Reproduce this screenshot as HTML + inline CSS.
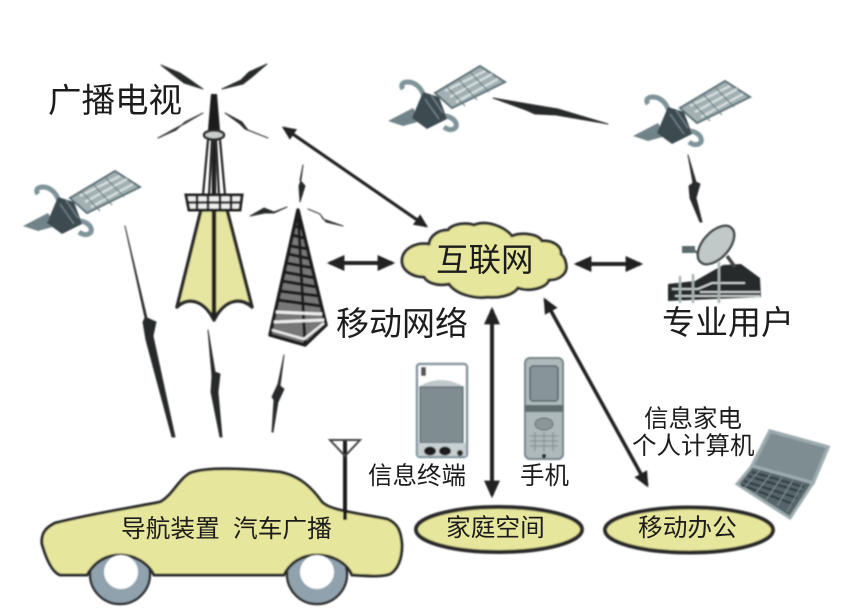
<!DOCTYPE html>
<html><head><meta charset="utf-8"><style>
html,body{margin:0;padding:0;background:#fff}
svg{display:block}
text{font-family:"Liberation Sans","Noto Sans CJK SC",sans-serif;fill:#1c1c1c}
</style></head><body>
<svg width="858" height="616" viewBox="0 0 858 616" xmlns="http://www.w3.org/2000/svg">
<defs>
<filter id="b" x="-5%" y="-5%" width="110%" height="110%"><feGaussianBlur stdDeviation="0.8"/></filter>
<filter id="t" x="-5%" y="-5%" width="110%" height="110%"><feGaussianBlur stdDeviation="0.35"/></filter>
<marker id="ah" markerWidth="4.4" markerHeight="4.4" refX="3.6" refY="2.2" orient="auto-start-reverse"><path d="M0,0.2L4.4,2.2L0,4.2z" fill="#222"/></marker>
<g id="sat">
<polygon points="70,198 115,171 140,187 87,213" fill="#a2b0b3" stroke="#5f7278" stroke-width="2"/>
<path d="M80,196L120,176M85,202L127,179M91,207L133,184" stroke="#d7dfe0" stroke-width="2.2" fill="none"/>
<path d="M82,192L100,211M94,185L112,205M106,178L124,197" stroke="#6c7f84" stroke-width="1.2" fill="none"/>
<path d="M38,194C33,187 44,185 50,189C55,192 57,196 59,201" fill="none" stroke="#7f949a" stroke-width="5"/>
<path d="M76,221C85,220 93,226 91,232C88,236 83,235 79,232" fill="none" stroke="#7f949a" stroke-width="5"/>
<polygon points="23,226 48,213 56,226 38,231" fill="#6f8389"/>
<polygon points="58,197 74,202 82,224 62,234 47,223" fill="#3e4c51"/>
<path d="M60,204L74,224M66,200L78,218" stroke="#6f8085" stroke-width="1.5"/>
</g>
</defs>
<rect width="858" height="616" fill="#fff"/>
<g filter="url(#b)">
<use href="#sat"/>
<use href="#sat" transform="translate(365,-105)"/>
<use href="#sat" transform="translate(610,-90)"/>

<g fill="#262b2c" stroke="#333" stroke-width="1" stroke-linejoin="round">
<polygon points="125,226 147,318 156,322 153,336 175,437 172,437 146,340 143,322 145,318"/>
<polygon points="208,330 215,372 220,374 218,392 222,437 220,437 211,392 212,376"/>
<polygon points="284,355 280,386 284,389 278,402 273,432 272,432 274,400 272,397 278,384"/>
<polygon points="493,98 540,106 558,109 608,124 556,115 535,114 526,110"/>
<polygon points="688,155 696,182 700,184 696,198 702,222 700,222 690,198 689,186 693,183"/>
<polygon points="161,65 180,73 189,79 203,89 184,83 176,77"/>
<polygon points="267,64 249,72 241,80 222,89 243,84 252,77"/>
<polygon points="158,138 176,130 185,122 203,113 186,123 178,127"/>
<polygon points="268,138 248,130 242,122 225,113 240,124 245,129"/>
<polygon points="250,216 264,208 274,212 287,207 274,213 265,213"/>
<polygon points="303,165 300,180 305,186 300,202 299,186 301,180"/>
<polygon points="308,209 320,214 326,222 343,226 323,219 320,214"/>
</g>

<!-- broadcast tower -->
<path d="M201,210L177,307C188,296 204,300 214,320C224,300 240,296 252,307L227,210Z" fill="#e6e6a0" stroke="#2c2c2c" stroke-width="3.5" stroke-linejoin="round"/>
<path d="M214,94V318" stroke="#222" stroke-width="4.5"/>
<polygon points="211,94 217,94 220,130 208,130" fill="#1c1c1c"/>
<ellipse cx="214" cy="135" rx="10" ry="4.5" fill="#c9cdcd" stroke="#2c2c2c" stroke-width="2.5"/>
<path d="M208,140L203,195M220,140L225,195M212,140L209,195M216,140L219,195" stroke="#2c2c2c" stroke-width="2.3" fill="none"/>
<path d="M186,195H242L240,210H189Z" fill="#eee" stroke="#222" stroke-width="3"/>
<path d="M186,202.5H242M197,195V210M208,195V210M220,195V210M231,195V210" stroke="#222" stroke-width="2.6" fill="none"/>

<!-- lattice tower -->
<g fill="none" stroke="#1f1f1f">
<path d="M298,210L270,335L305,345L326,325Z" fill="#777" stroke-width="3.5" stroke-linejoin="round"/>
<path d="M298,210L305,345" stroke-width="3"/>
<path d="M294,226L302,228M292,235L304,238M290,246L309,249M288,254L311,259M286,263L313,268M284,272L315,278M282,281L317,287M280,291L319,296M278,300L321,306" stroke-width="3.3"/>
<path d="M276,312L322,314M274,322L324,320" stroke="#eee" stroke-width="3"/>
<path d="M272,330L304,339L324,323" stroke="#eee" stroke-width="2.4"/>
</g>

<!-- arrows -->
<g stroke="#222" fill="none">
<line x1="284" y1="128" x2="426" y2="226" stroke-width="3.2" marker-start="url(#ah)" marker-end="url(#ah)"/>
<line x1="330" y1="263" x2="392" y2="263" stroke-width="4" marker-start="url(#ah)" marker-end="url(#ah)"/>
<line x1="577" y1="264" x2="640" y2="264" stroke-width="4" marker-start="url(#ah)" marker-end="url(#ah)"/>
<line x1="492" y1="310" x2="492" y2="495" stroke-width="4" marker-start="url(#ah)" marker-end="url(#ah)"/>
<line x1="545" y1="300" x2="647" y2="485" stroke-width="3.6" marker-start="url(#ah)" marker-end="url(#ah)"/>
</g>

<!-- cloud -->
<path d="M429,244C414,242 402,250 402,261C402,270 412,277 424,277C428,284 440,286 449,284C456,294 474,299 488,297C498,298 512,296 518,288C530,292 546,288 549,280C561,280 568,272 566,264C565,258 563,256 561,254C562,246 552,240 542,241C538,234 522,232 512,236C504,226 486,220 474,225C466,222 452,224 448,230C438,230 430,236 429,244Z" fill="#e6e69c" stroke="#2f2f2f" stroke-width="3"/>

<!-- dish building -->
<polygon points="668,284 695,281 723,265 741,264 760,278 761,297 668,301" fill="#262b2c"/>
<path d="M672,289H698L712,283H745M700,292H760M675,296H760" stroke="#d5dcdc" stroke-width="1.8" fill="none"/>
<path d="M680,276V303M693,274V303M719,262V303" stroke="#aab4b4" stroke-width="2.5" fill="none"/>
<path d="M690,248L706,258" stroke="#555" stroke-width="2"/>
<ellipse cx="716" cy="245" rx="13" ry="23" transform="rotate(42 716 245)" fill="#c0c8c8" stroke="#40494b" stroke-width="2.5"/>
<rect x="682" y="246" width="13" height="7" fill="#5c6a6d"/>
<path d="M727,256L735,267" stroke="#444" stroke-width="3.5"/>

<!-- PDA -->
<rect x="417" y="364" width="50" height="93" rx="3" fill="#fff" stroke="#8497a0" stroke-width="2.5"/>
<rect x="420" y="387" width="43" height="56" fill="#7f8d92" stroke="#5d6c71" stroke-width="1.5"/>
<path d="M420,386Q440,374 463,386" fill="#bfc8ca"/>
<rect x="421" y="367" width="5" height="9" fill="#555"/>
<rect x="418" y="443" width="48" height="13" fill="#c6cfd1"/>
<ellipse cx="430" cy="451" rx="6" ry="4.5" fill="#1c1c1c"/>
<ellipse cx="445" cy="451" rx="6" ry="4.5" fill="#1c1c1c"/>
<circle cx="460" cy="453" r="3" fill="#2a2a2a"/>

<!-- flip phone -->
<rect x="525" y="358" width="38" height="101" rx="5" fill="#aeb9bc" stroke="#758589" stroke-width="2"/>
<rect x="530" y="366" width="28" height="35" rx="3" fill="#87949a" stroke="#56656a" stroke-width="1.5"/>
<rect x="525" y="405" width="38" height="7" fill="#5e6d70"/>
<ellipse cx="544" cy="424" rx="9" ry="6" fill="#8a979a" stroke="#5e6d70"/>
<path d="M530,436H558M530,441H558M530,446H558M535,432V451M544,432V451M553,432V451" stroke="#869497" stroke-width="1.3"/>
<circle cx="544" cy="456" r="2.2" fill="#222"/>

<!-- laptop -->
<polygon points="770,431 828,447 813,483 752,466" fill="#7e8d92" stroke="#9cabaf" stroke-width="3.5"/>
<polygon points="752,466 813,483 790,518 737,484" fill="#566569" stroke="#9cabaf" stroke-width="3"/>
<path d="M752,472L804,487M748,476L801,492M744,481L797,498M741,485L793,504" stroke="#2f3b3f" stroke-width="2"/>
<path d="M760,470L744,488M771,474L755,494M782,477L766,500M793,480L777,506M803,483L787,512" stroke="#7c8b8f" stroke-width="1.2"/>

<!-- ellipses -->
<ellipse cx="499" cy="529.5" rx="83" ry="22.5" fill="#e6e69c" stroke="#2b2b2b" stroke-width="4"/>
<ellipse cx="689" cy="530" rx="84" ry="22.5" fill="#e6e69c" stroke="#2b2b2b" stroke-width="4"/>

<!-- wheels behind car body outline -->
<circle cx="120" cy="574" r="30" fill="#8fa2ad" stroke="#2f2f2f" stroke-width="2.5"/>
<circle cx="317" cy="574" r="30" fill="#8fa2ad" stroke="#2f2f2f" stroke-width="2.5"/>
<!-- car -->
<path d="M87,575H60C52,572 46,558 42,544C41,534 45,528 55,523C90,514 130,508 160,502C172,496 178,480 190,473C205,467 240,468 280,472C300,476 312,488 322,502C330,510 350,512 387,519C397,523 401,530 402,545C402,560 397,570 390,574C382,577 370,576 352,575C347,563 333,555 317,555C301,555 290,563 284,575H154C148,563 135,555 120,555C104,555 94,563 87,575Z" fill="#e6e69c" stroke="#2b2b2b" stroke-width="3"/>
<circle cx="121" cy="572" r="17" fill="#fff"/>
<circle cx="317" cy="572" r="17" fill="#fff"/>
<path d="M345,440V520" stroke="#1c1c1c" stroke-width="4"/>
<path d="M330,440H360L345,456Z" fill="none" stroke="#444" stroke-width="2"/>
</g>

<g filter="url(#t)">
<text x="48" y="112" font-size="33.5">广播电视</text>
<text x="336" y="335" font-size="33">移动网络</text>
<text x="662" y="334" font-size="33">专业用户</text>
<text x="436" y="271" font-size="32.5">互联网</text>
<text x="368" y="484" font-size="24.5">信息终端</text>
<text x="520" y="484" font-size="24.5">手机</text>
<text x="644" y="427" font-size="24.5">信息家电</text>
<text x="632" y="454" font-size="24.5">个人计算机</text>
<text x="446" y="536" font-size="24.7">家庭空间</text>
<text x="638" y="536" font-size="24.7">移动办公</text>
<text x="121" y="537" font-size="24.7">导航装置</text>
<text x="233" y="537" font-size="24.7">汽车广播</text>
</g>
</svg>
</body></html>
